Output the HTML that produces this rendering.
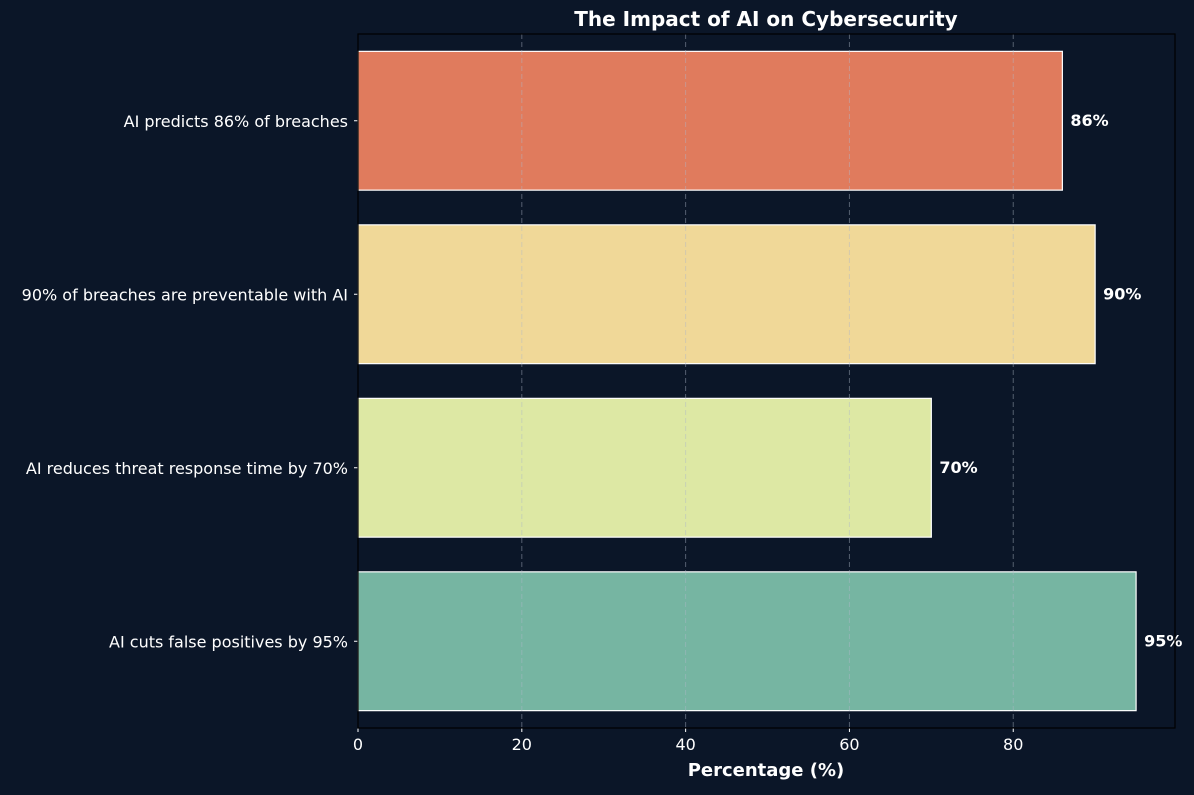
<!DOCTYPE html>
<html><head><meta charset="utf-8"><style>
html,body{margin:0;padding:0;background:#0b1628;}
svg text{font-family:"DejaVu Sans","Liberation Sans",sans-serif;fill:#fff;}
</style></head><body>
<svg id="chart" width="1194" height="790" xmlns="http://www.w3.org/2000/svg">
<rect width="1194" height="790" fill="#0b1628"/>
<text x="766" y="26" text-anchor="middle" font-size="20" font-weight="bold">The Impact of AI on Cybersecurity</text>
<text x="766" y="776" text-anchor="middle" font-size="18" font-weight="bold">Percentage (%)</text>
<g id="bars"></g><g id="grid"></g><g id="axes"></g>
</svg>
<script>
const categories = ["AI predicts 86% of breaches","90% of breaches are preventable with AI","AI reduces threat response time by 70%","AI cuts false positives by 95%"];
const values = [86, 90, 70, 95];
const colors = ["#e07b5d","#f0d898","#dde8a4","#76b5a2"];
const xTicks = [0, 20, 40, 60, 80];
const labels = ["86%","90%","70%","95%"];

const L=358,R=1175,T=34,B=728;
const xMax = Math.max(...values)*1.05;
const x = v => L + v/xMax*(R-L);
const band = (B-T)/(categories.length*0.8+ (categories.length-1)*0.2+0.2*2+0.0);
const step=(B-T)/4;
const yc = i => T + step*(i+0.5);
const bh = step*0.8;
const NS="http://www.w3.org/2000/svg";
function mk(tag,attrs,parent){const e=document.createElementNS(NS,tag);for(const k in attrs)e.setAttribute(k,attrs[k]);parent.appendChild(e);return e;}
const bars=document.getElementById('bars'),grid=document.getElementById('grid'),axes=document.getElementById('axes');
categories.forEach((c,i)=>{
  const r=mk('rect',{x:x(0),y:yc(i)-bh/2,width:x(values[i])-x(0),height:bh,fill:colors[i],stroke:"#ffffff","stroke-width":1.2},bars);
  
  
  const t=mk('text',{x:x(values[i])+8,y:yc(i)+5,"font-size":16,"font-weight":"bold"},bars);
  t.textContent=labels[i];
  
  
  const tl=mk('text',{x:L-10,y:yc(i)+6,"text-anchor":"end","font-size":16},axes);
  tl.textContent=c;
  
  
  const tk=mk('line',{x1:L-4,x2:L,y1:yc(i),y2:yc(i),stroke:"#fff"},axes);
  
  
});
xTicks.forEach(v=>{
  if(v>0){const g=mk('line',{x1:x(v),x2:x(v),y1:T,y2:B,stroke:"#b0b8c8","stroke-opacity":0.45,"stroke-dasharray":"5,3"},grid);
  
  }
  const tk=mk('line',{x1:x(v),x2:x(v),y1:B,y2:B+4,stroke:"#fff"},axes);
  
  
  const t=mk('text',{x:x(v),y:B+22,"text-anchor":"middle","font-size":16},axes);
  t.textContent=v;
  
  
});
const fr=mk('rect',{x:L,y:T,width:R-L,height:B-T,fill:"none",stroke:"#000","stroke-width":1.2},axes);


</script>
</body></html>
